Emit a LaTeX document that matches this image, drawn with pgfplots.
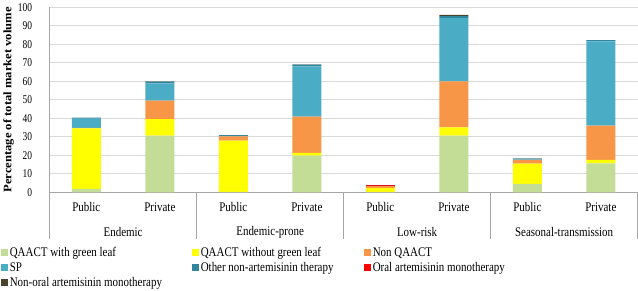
\documentclass[border=0pt]{standalone}
\usepackage{fontspec}
\setmainfont{Liberation Serif}
\usepackage{graphicx}
\usepackage{pgfplots}
\pgfplotsset{compat=1.18}
\definecolor{cGreen}{HTML}{C4DD96}
\definecolor{cYellow}{HTML}{FFFF00}
\definecolor{cOrange}{HTML}{F79646}
\definecolor{cSP}{HTML}{4BACC6}
\definecolor{cTeal}{HTML}{31859C}
\definecolor{cRed}{HTML}{FF0000}
\definecolor{cDark}{HTML}{494429}
\definecolor{cGrid}{HTML}{D9D9D9}
\definecolor{cAxis}{HTML}{A6A6A6}
% the reference text is stretched vertically
\newcommand{\vs}[1]{\scalebox{1}[1.2]{#1}}
\newcommand{\lentry}[2]{\makebox[#1][l]{\vs{#2}}}
\begin{document}
\begin{tikzpicture}[font=\fontsize{11}{13}\selectfont]
\begin{axis}[
  scale only axis, width=588bp, height=185bp,
  ybar stacked, bar width=29bp,
  xmin=-0.5, xmax=7.5, ymin=0, ymax=100,
  ytick={0,10,...,100},
  yticklabel={\scalebox{1}[1.25]{\pgfmathprintnumber{\tick}}},
  xtick={0,...,7},
  xticklabels={\vs{Public},\vs{Private},\vs{Public},\vs{Private},\vs{Public},\vs{Private},\vs{Public},\vs{Private}},
  major tick length=0pt,
  /pgf/number format/assume math mode=true,
  axis x line*=bottom, axis y line*=left,
  axis line style={draw=cAxis, line width=0.8pt, -},
  ymajorgrids, grid style={cGrid, line width=0.8pt},
  x tick label style={yshift=-7bp},
  y tick label style={anchor=east, xshift=-14bp, font=\fontsize{9.5}{11}\selectfont},
  ylabel={\scalebox{1.1}[1]{\fontsize{11.5}{13}\selectfont\bfseries Percentage of total market volume}},
  ylabel style={at={(axis description cs:-0.0697,0.5)}, anchor=center},
  clip=false,
  legend columns=3,
  legend cell align=left,
  legend style={at={(-0.0833,-0.285)}, anchor=north west, draw=none, fill=none,
    inner sep=0pt, row sep=0.5bp,
    /tikz/every even column/.append style={column sep=0bp}},
  legend image code/.code={\fill[#1] (0bp,-3.5bp) rectangle (7bp,3.5bp);},
]
\addplot[fill=cGreen, draw=none] coordinates {(0,1.8) (1,30.6) (2,0.3) (3,19.8) (4,0.2) (5,30.6) (6,4.5) (7,15.7)};
\addlegendentry{\lentry{180bp}{QAACT with green leaf}}
\addplot[fill=cYellow, draw=none] coordinates {(0,32.8) (1,9.0) (2,27.6) (3,1.5) (4,2.1) (5,4.5) (6,11.0) (7,1.8)};
\addlegendentry{\lentry{161bp}{QAACT without green leaf}}
\addplot[fill=cOrange, draw=none] coordinates {(0,0.2) (1,9.9) (2,2.4) (3,19.6) (4,1.0) (5,24.9) (6,2.0) (7,18.5)};
\addlegendentry{\vs{Non QAACT}}
\addplot[fill=cSP, draw=none] coordinates {(0,5.0) (1,9.4) (2,0.1) (3,27.2) (4,0.1) (5,34.2) (6,0.3) (7,45.6)};
\addlegendentry{\lentry{180bp}{SP}}
\addplot[fill=cTeal, draw=none] coordinates {(0,0.6) (1,0.9) (2,0.5) (3,0.9) (4,0.1) (5,1.1) (6,0.4) (7,0.6)};
\addlegendentry{\lentry{161bp}{Other non-artemisinin therapy}}
\addplot[fill=cRed, draw=none] coordinates {(0,0) (1,0) (2,0) (3,0) (4,0.3) (5,0) (6,0) (7,0)};
\addlegendentry{\vs{Oral artemisinin monotherapy}}
\addplot[fill=cDark, draw=none] coordinates {(0,0) (1,0.2) (2,0) (3,0.1) (4,0.1) (5,0.6) (6,0.1) (7,0.1)};
\addlegendentry{\vs{Non-oral artemisinin monotherapy}}
% group dividers and names
\draw[cAxis, line width=0.8pt] (axis cs:-0.5,0) -- ([yshift=-47bp]axis cs:-0.5,0);
\draw[cAxis, line width=0.8pt] (axis cs:1.5,0) -- ([yshift=-47bp]axis cs:1.5,0);
\draw[cAxis, line width=0.8pt] (axis cs:3.5,0) -- ([yshift=-47bp]axis cs:3.5,0);
\draw[cAxis, line width=0.8pt] (axis cs:5.5,0) -- ([yshift=-47bp]axis cs:5.5,0);
\draw[cAxis, line width=0.8pt] (axis cs:7.5,0) -- ([yshift=-47bp]axis cs:7.5,0);
\node at ([yshift=-40bp]axis cs:0.5,0) {\vs{Endemic}};
\node at ([yshift=-40bp]axis cs:2.5,0) {\vs{Endemic-prone}};
\node at ([yshift=-40bp]axis cs:4.5,0) {\vs{Low-risk}};
\node at ([yshift=-40bp]axis cs:6.5,0) {\vs{Seasonal-transmission}};
\end{axis}
\end{tikzpicture}
\end{document}
